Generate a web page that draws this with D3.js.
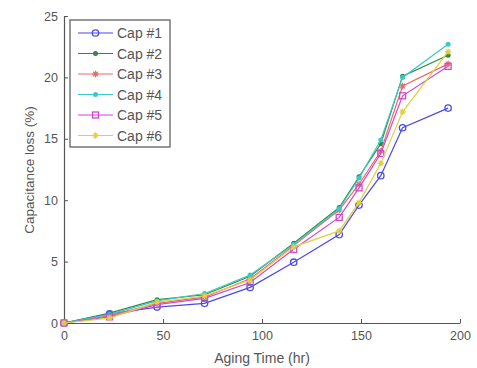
<!DOCTYPE html>
<html><head><meta charset="utf-8">
<script src="https://cdn.jsdelivr.net/npm/d3@7/dist/d3.min.js"></script>
<style>body{margin:0;background:#fff;} text{font-family:"Liberation Sans",Arial,sans-serif;}</style>
</head><body><svg id="c" width="477" height="368"></svg>
<script>
const hours = [0, 23, 47, 71, 94, 116, 139, 149, 160, 171, 194];
const seriesNames = ["Cap #1","Cap #2","Cap #3","Cap #4","Cap #5","Cap #6"];
const cap1 = [0, 0.75, 1.3, 1.6, 2.9, 4.95, 7.2, 9.6, 12.0, 15.9, 17.5];
const cap2 = [0, 0.8, 1.9, 2.3, 3.8, 6.5, 9.4, 11.9, 14.6, 20.1, 21.8];
const cap3 = [0, 0.6, 1.6, 2.1, 3.6, 6.3, 9.2, 11.3, 14.0, 19.3, 21.1];
const cap4 = [0, 0.7, 1.8, 2.4, 3.9, 6.4, 9.3, 11.8, 14.9, 20.0, 22.7];
const cap5 = [0, 0.5, 1.5, 2.0, 3.3, 6.0, 8.6, 11.0, 13.8, 18.5, 20.9];
const cap6 = [0, 0.4, 1.7, 2.2, 3.5, 6.2, 7.5, 9.8, 13.0, 17.2, 22.1];
const xTicks = [0, 50, 100, 150, 200];
const yTicks = [0, 5, 10, 15, 20, 25];
const colors = ["#4a4ae8","#2e8b3e","#e86a6a","#3cc8c8","#d048d0","#e0d040"];
const markers = ["circle","dot","star","dot","square","star"];
const allSeries = [cap1,cap2,cap3,cap4,cap5,cap6];

const svg = d3.select("#c");
const x = d3.scaleLinear().domain([0,200]).range([64,460]);
const y = d3.scaleLinear().domain([0,25]).range([323,16]);
const axisCol = "#555";

const gx = svg.append("g").attr("transform","translate(0,323)")
  .call(d3.axisBottom(x).tickValues(xTicks).tickSizeInner(-4).tickSizeOuter(0).tickPadding(8));
const gy = svg.append("g").attr("transform","translate(64,0)")
  .call(d3.axisLeft(y).tickValues(yTicks).tickSizeInner(-4).tickSizeOuter(0).tickPadding(6));
[gx,gy].forEach(g=>{
  g.select(".domain").attr("stroke",axisCol).attr("stroke-width",1.2);
  g.selectAll(".tick line").attr("stroke",axisCol);
  g.selectAll(".tick text").attr("fill","#555").style("font-size","12.5px").style("font-family","Liberation Sans, Arial, sans-serif");
});

svg.append("text").attr("x",262).attr("y",363).attr("text-anchor","middle")
  .attr("fill","#555").style("font-size","14px").text("Aging Time (hr)");
svg.append("text").attr("transform","translate(34,170) rotate(-90)").attr("text-anchor","middle")
  .attr("fill","#555").style("font-size","13.5px").text("Capacitance loss (%)");

function drawMarker(g, type, cx, cy, col){
  if(type==="circle"){
    g.append("circle").attr("cx",cx).attr("cy",cy).attr("r",3.2).attr("fill","none").attr("stroke",col).attr("stroke-width",1.3);
  } else if(type==="dot"){
    g.append("circle").attr("cx",cx).attr("cy",cy).attr("r",2.5).attr("fill",col);
  } else if(type==="square"){
    g.append("rect").attr("x",cx-3).attr("y",cy-3).attr("width",6).attr("height",6).attr("fill","none").attr("stroke",col).attr("stroke-width",1.3);
  } else if(type==="star"){
    const s=3.2;
    g.append("path").attr("d",`M${cx-s},${cy}L${cx+s},${cy}M${cx},${cy-s}L${cx},${cy+s}M${cx-s*0.7},${cy-s*0.7}L${cx+s*0.7},${cy+s*0.7}M${cx-s*0.7},${cy+s*0.7}L${cx+s*0.7},${cy-s*0.7}`)
      .attr("stroke",col).attr("stroke-width",1.2).attr("fill","none");
  }
}

const line = d3.line().x((d,i)=>x(hours[i])).y(d=>y(d));
allSeries.forEach((vals,si)=>{
  const g = svg.append("g");
  g.append("path").datum(vals).attr("d",line).attr("fill","none").attr("stroke",colors[si]).attr("stroke-width",1.2);
  vals.forEach((v,i)=>drawMarker(g, markers[si], x(hours[i]), y(v), colors[si]));
});

const lg = svg.append("g");
lg.append("rect").attr("x",70).attr("y",20).attr("width",100).attr("height",127)
  .attr("fill","#fff").attr("stroke","#555").attr("stroke-width",1.2);
seriesNames.forEach((n,i)=>{
  const yy = 33 + i*20.5;
  lg.append("line").attr("x1",78).attr("x2",113).attr("y1",yy).attr("y2",yy).attr("stroke",colors[i]).attr("stroke-width",1.2);
  drawMarker(lg, markers[i], 95.5, yy, colors[i]);
  lg.append("text").attr("x",117).attr("y",yy+5).attr("fill","#555").style("font-size","14px").text(n);
});
</script></body></html>
